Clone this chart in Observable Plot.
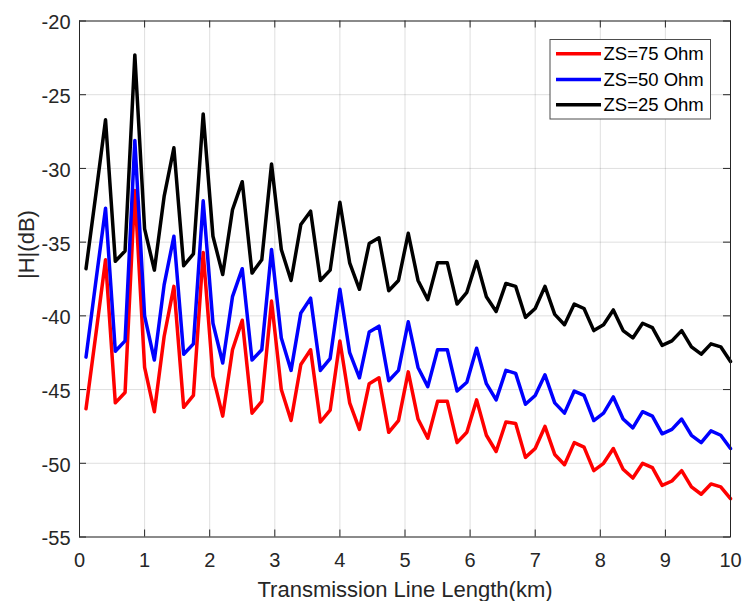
<!DOCTYPE html>
<html>
<head>
<meta charset="utf-8">
<script src="https://cdn.jsdelivr.net/npm/d3@7"></script>
<script src="https://cdn.jsdelivr.net/npm/@observablehq/plot@0.6"></script>
<style>
  html, body { margin: 0; padding: 0; background: #ffffff; }
  #chart { width: 743px; height: 601px; }
</style>
</head>
<body>
<div id="chart"></div>
<script>
// ---- data ----
const lengthKm = [0.1, 0.25, 0.4, 0.55, 0.7, 0.85, 1.0, 1.15, 1.3, 1.45, 1.6, 1.75, 1.9, 2.05, 2.2, 2.35, 2.5, 2.65, 2.8, 2.95,
  3.1, 3.25, 3.4, 3.55, 3.7, 3.85, 4.0, 4.15, 4.3, 4.45, 4.6, 4.75, 4.9, 5.05, 5.2, 5.35, 5.5, 5.65, 5.8, 5.95,
  6.1, 6.25, 6.4, 6.55, 6.7, 6.85, 7.0, 7.15, 7.3, 7.45, 7.6, 7.75, 7.9, 8.05, 8.2, 8.35, 8.5, 8.65, 8.8, 8.95,
  9.1, 9.25, 9.4, 9.55, 9.7, 9.85, 10.0];

const zs75 = [-46.3, -41.3, -36.2, -45.9, -45.2, -31.5, -43.5, -46.5, -41.4, -38.0, -46.2, -45.4, -35.7, -44.1, -46.8, -42.3, -40.3, -46.6, -45.8, -39.0,
  -45.0, -47.1, -43.3, -42.3, -47.2, -46.4, -41.7, -45.9, -47.7, -44.6, -44.2, -47.9, -47.1, -43.8, -47.0, -48.3, -45.8, -45.8, -48.6, -47.9,
  -45.7, -48.1, -49.2, -47.2, -47.3, -49.6, -49.0, -47.5, -49.4, -50.1, -48.6, -48.9, -50.5, -50.0, -49.0, -50.4, -51.0, -50.0, -50.3, -51.5,
  -51.2, -50.5, -51.6, -52.1, -51.4, -51.6, -52.4];

const zs50 = [-42.8, -37.7, -32.7, -42.4, -41.7, -28.1, -40.0, -43.0, -37.9, -34.6, -42.6, -41.9, -32.2, -40.5, -43.2, -38.7, -36.8, -43.0, -42.3, -35.5,
  -41.5, -43.7, -39.8, -38.8, -43.7, -42.9, -38.2, -42.5, -44.2, -41.1, -40.7, -44.4, -43.7, -40.4, -43.5, -44.8, -42.3, -42.3, -45.1, -44.5,
  -42.2, -44.6, -45.7, -43.7, -43.9, -46.0, -45.4, -44.0, -45.9, -46.6, -45.1, -45.4, -47.1, -46.6, -45.5, -47.0, -47.6, -46.5, -46.8, -48.0,
  -47.7, -47.0, -48.1, -48.6, -47.8, -48.1, -49.0];

const zs25 = [-36.8, -31.8, -26.7, -36.3, -35.6, -22.3, -34.1, -36.9, -31.9, -28.6, -36.6, -35.8, -26.3, -34.6, -37.2, -32.8, -30.9, -37.1, -36.2, -29.7,
  -35.5, -37.6, -33.8, -32.9, -37.6, -36.9, -32.3, -36.4, -38.2, -35.1, -34.7, -38.3, -37.6, -34.4, -37.6, -38.9, -36.4, -36.4, -39.2, -38.4,
  -36.3, -38.7, -39.7, -37.8, -38.0, -40.1, -39.5, -38.0, -39.9, -40.6, -39.2, -39.5, -41.0, -40.6, -39.6, -41.0, -41.5, -40.5, -40.8, -42.0,
  -41.7, -41.0, -42.1, -42.6, -41.9, -42.1, -43.1];

const seriesNames = ["ZS=75 Ohm", "ZS=50 Ohm", "ZS=25 Ohm"];
const seriesColors = ["#ff0000", "#0000ff", "#000000"];
const xTicks = [0, 1, 2, 3, 4, 5, 6, 7, 8, 9, 10];
const yTicks = [-55, -50, -45, -40, -35, -30, -25, -20];
const xLabel = "Transmission Line Length(km)";
const yLabel = "|H|(dB)";

// ---- build table ----
const seriesValues = [zs75, zs50, zs25];
const rows = [];
seriesValues.forEach((vals, i) => {
  vals.forEach((v, j) => rows.push({km: lengthKm[j], db: v, series: seriesNames[i]}));
});

// ---- layout ----
const W = 743, H = 601;
const mL = 79, mR = 13, mT = 20.5, mB = 64.5;
const innerW = W - mL - mR, innerH = H - mT - mB;
const ink = "#262626";
const font = "'Liberation Sans', Arial, Helvetica, sans-serif";
const tickLen = 7;

const chart = Plot.plot({
  width: W,
  height: H,
  marginLeft: mL,
  marginRight: mR,
  marginTop: mT,
  marginBottom: mB,
  style: {fontFamily: font, fontSize: "20px", color: ink, background: "#ffffff", overflow: "visible"},
  x: {domain: [0, 10]},
  y: {domain: [-55, -20]},
  color: {domain: seriesNames, range: seriesColors},
  marks: [
    Plot.gridX(xTicks, {stroke: ink, strokeOpacity: 0.15, strokeWidth: 1}),
    Plot.gridY(yTicks, {stroke: ink, strokeOpacity: 0.15, strokeWidth: 1}),
    Plot.line(rows, {x: "km", y: "db", z: "series", stroke: "series", strokeWidth: 3.5}),
    // inward ticks on all four sides
    Plot.tickX(xTicks, {x: d => d, stroke: ink, insetTop: innerH - tickLen}),
    Plot.tickX(xTicks, {x: d => d, stroke: ink, insetBottom: innerH - tickLen}),
    Plot.tickY(yTicks, {y: d => d, stroke: ink, insetRight: innerW - tickLen}),
    Plot.tickY(yTicks, {y: d => d, stroke: ink, insetLeft: innerW - tickLen}),
    Plot.frame({stroke: ink, strokeWidth: 1}),
    Plot.axisX(xTicks, {tickSize: 0, tickPadding: 16, label: null, tickFormat: d => String(d), fill: ink, fontSize: 20}),
    Plot.axisY(yTicks, {tickSize: 0, tickPadding: 9, label: null, tickFormat: d => String(d), fill: ink, fontSize: 20, dy: 2}),
    Plot.text([xLabel], {text: d => d, frameAnchor: "bottom", dy: 53, lineAnchor: "middle", fontSize: 22, fill: ink}),
    Plot.text([yLabel], {text: d => d, frameAnchor: "left", dx: -53, rotate: -90, lineAnchor: "middle", fontSize: 22, fill: ink})
  ]
});

document.getElementById("chart").appendChild(chart);

// ---- legend (top-right box inside the axes) ----
const svg = d3.select(chart);
const lg = svg.append("g")
  .attr("font-family", font)
  .style("font-size", "18.5px")
  .attr("text-anchor", "start");
const box = {x: 550, y: 39.5, w: 160.5, h: 79.5};
lg.append("rect")
  .attr("x", box.x).attr("y", box.y).attr("width", box.w).attr("height", box.h)
  .attr("fill", "#ffffff").attr("stroke", "#4d4d4d").attr("stroke-width", 1);
const rowY = [53.7, 79.5, 104.7];
seriesNames.forEach((name, i) => {
  lg.append("line")
    .attr("x1", 556).attr("x2", 601).attr("y1", rowY[i]).attr("y2", rowY[i])
    .attr("stroke", seriesColors[i]).attr("stroke-width", 3.5);
  lg.append("text")
    .attr("x", 603.5).attr("y", rowY[i]).attr("dy", "0.35em")
    .style("text-anchor", "start")
    .attr("fill", "#000000").text(name);
});
</script>
</body>
</html>
